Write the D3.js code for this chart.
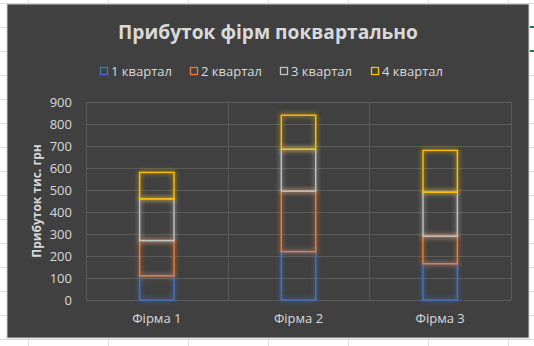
<!DOCTYPE html>
<html>
<head>
<meta charset="utf-8">
<script src="https://cdn.jsdelivr.net/npm/d3@7"></script>
<style>
    html, body { margin: 0; padding: 0; background: #ffffff; }
    svg { display: block; font-family: "Open Sans", "Noto Sans", sans-serif; }
</style>
</head>
<body>
<div id="chart"></div>
<script>
// Chart data
const firms = ["Фірма 1", "Фірма 2", "Фірма 3"];
const quarters = ["1 квартал", "2 квартал", "3 квартал", "4 квартал"];
const q1 = [110, 220, 165];
const q2 = [160, 275, 125];
const q3 = [190, 190, 200];
const q4 = [120, 155, 190];
const yTicks = [0, 100, 200, 300, 400, 500, 600, 700, 800, 900];
const colors = ["#4472c4", "#ed7d31", "#c3c3c3", "#ffc000"];

const title = "Прибуток фірм поквартально";
const yTitle = "Прибуток тис. грн";

// Layout config
const config = {
    width: 534, height: 346,
    chartBox: { x: 7, y: 4, w: 522, h: 334 },
    plot: { left: 86, right: 511, top: 102, bottom: 300 },
    textColor: "#d9d9d9",
    gridColor: "#5a5a5a"
};

const svg = d3.select("#chart").append("svg")
    .attr("width", config.width)
    .attr("height", config.height);

// Glow filters, one per series colour
const defs = svg.append("defs");
colors.forEach((c, i) => {
    const f = defs.append("filter")
        .attr("id", "glow" + i)
        .attr("x", "-30%").attr("y", "-30%")
        .attr("width", "160%").attr("height", "160%");
    f.append("feGaussianBlur")
        .attr("in", "SourceGraphic")
        .attr("stdDeviation", 2.6)
        .attr("result", "blur");
    f.append("feComponentTransfer")
        .attr("in", "blur")
        .attr("result", "soft")
        .append("feFuncA").attr("type", "linear").attr("slope", 1.1);
    const merge = f.append("feMerge");
    merge.append("feMergeNode").attr("in", "soft");
    merge.append("feMergeNode").attr("in", "SourceGraphic");
});

// Spreadsheet cells behind the chart
const sheet = svg.append("g");
d3.range(28, config.width, 80).forEach(x => {
    sheet.append("line")
        .attr("x1", x + 0.5).attr("x2", x + 0.5)
        .attr("y1", 0).attr("y2", config.height)
        .attr("stroke", "#dadada");
});
d3.range(3, config.height, 24).forEach(y => {
    sheet.append("line")
        .attr("x1", 0).attr("x2", config.width)
        .attr("y1", y + 0.5).attr("y2", y + 0.5)
        .attr("stroke", "#dadada");
});
// selected cell border bits on the right
[27, 51].forEach(y => {
    sheet.append("rect")
        .attr("x", 530).attr("y", y - 1)
        .attr("width", 4).attr("height", 2)
        .attr("fill", "#217346");
});

// Chart area
const box = config.chartBox;
svg.append("rect")
    .attr("x", box.x).attr("y", box.y)
    .attr("width", box.w).attr("height", box.h)
    .attr("fill", "#404040")
    .attr("stroke", "#d0d0d0")
    .attr("stroke-width", 1);

// Scales
const x = d3.scaleBand()
    .domain(firms)
    .range([config.plot.left, config.plot.right])
    .paddingInner(0.75)
    .paddingOuter(0.375);

const y = d3.scaleLinear()
    .domain([0, 900])
    .range([config.plot.bottom, config.plot.top]);

// Grid
const grid = svg.append("g");
grid.selectAll("line.h")
    .data(yTicks)
    .join("line")
    .attr("class", "h")
    .attr("x1", config.plot.left).attr("x2", config.plot.right)
    .attr("y1", d => Math.round(y(d)) + 0.5)
    .attr("y2", d => Math.round(y(d)) + 0.5)
    .attr("stroke", config.gridColor);

const step = x.step();
const bounds = d3.range(firms.length + 1).map(i => config.plot.left + i * step);
grid.selectAll("line.v")
    .data(bounds)
    .join("line")
    .attr("class", "v")
    .attr("x1", d => Math.round(d) + 0.5).attr("x2", d => Math.round(d) + 0.5)
    .attr("y1", y(900)).attr("y2", y(0))
    .attr("stroke", config.gridColor);

// Y axis labels
const yAxis = d3.axisLeft(y).tickValues(yTicks).tickSize(0).tickPadding(14);
const yg = svg.append("g")
    .attr("transform", `translate(${config.plot.left},0)`)
    .call(yAxis);
yg.select(".domain").remove();
yg.selectAll("text")
    .attr("fill", config.textColor)
    .style("font-size", "13px")
    .style("font-family", "'Open Sans', sans-serif");

// X axis labels
const xAxis = d3.axisBottom(x).tickSize(0).tickPadding(14);
const xg = svg.append("g")
    .attr("transform", `translate(0,${config.plot.bottom})`)
    .call(xAxis);
xg.select(".domain").remove();
xg.selectAll("text")
    .attr("fill", config.textColor)
    .style("font-size", "13px")
    .style("font-family", "'Open Sans', sans-serif");

// Stacked bars
const rows = firms.map((f, i) => ({ firm: f, q1: q1[i], q2: q2[i], q3: q3[i], q4: q4[i] }));
const series = d3.stack().keys(["q1", "q2", "q3", "q4"])(rows);

const barsLayer = svg.append("g");
series.forEach((s, si) => {
    barsLayer.append("g")
        .attr("filter", `url(#glow${si})`)
        .selectAll("rect")
        .data(s)
        .join("rect")
        .attr("x", d => x(d.data.firm) + 0.5)
        .attr("y", d => y(d[1]))
        .attr("width", x.bandwidth() - 1)
        .attr("height", d => y(d[0]) - y(d[1]))
        .attr("fill", "none")
        .attr("stroke", colors[si])
        .attr("stroke-width", 1.4);
});

// Title
const titleText = svg.append("text")
    .attr("x", box.x + box.w / 2)
    .attr("y", 39)
    .attr("text-anchor", "middle")
    .attr("fill", config.textColor)
    .style("font-weight", "bold")
    .style("font-size", "20px")
    .text(title);
// fit title width to reference (~300px)
const tw = titleText.node().getComputedTextLength();
titleText.style("font-size", (20 * 300 / tw).toFixed(2) + "px");

// Y axis title
svg.append("text")
    .attr("transform", `translate(41,${(config.plot.top + config.plot.bottom) / 2}) rotate(-90)`)
    .attr("text-anchor", "middle")
    .attr("fill", config.textColor)
    .style("font-weight", "bold")
    .style("font-size", "12px")
    .text(yTitle);

// Legend
const legendX = [100, 190, 280, 371];
const legend = svg.append("g");
quarters.forEach((q, i) => {
    const g = legend.append("g").attr("transform", `translate(${legendX[i]},71)`);
    g.append("rect")
        .attr("x", 0.5).attr("y", -3.5)
        .attr("width", 7).attr("height", 7)
        .attr("fill", "none")
        .attr("stroke", colors[i])
        .attr("stroke-width", 1.3);
    g.append("text")
        .attr("x", 11)
        .attr("y", 4.5)
        .attr("fill", config.textColor)
        .style("font-size", "13px")
        .text(q);
});
</script>
</body>
</html>
